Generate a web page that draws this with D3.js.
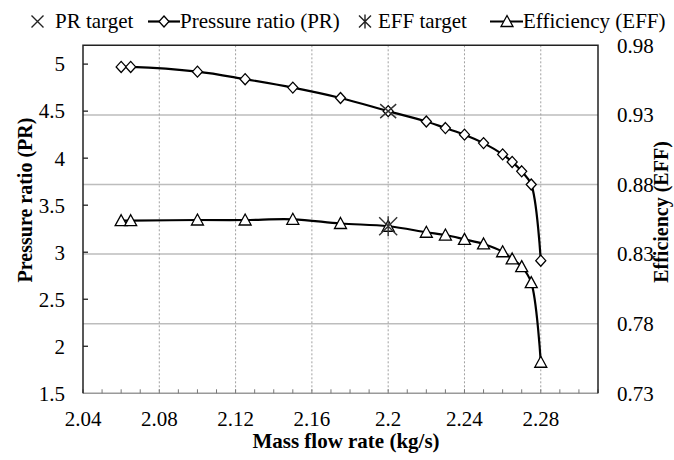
<!DOCTYPE html>
<html>
<head>
  <meta charset="UTF-8">
  <script src="https://d3js.org/d3.v7.min.js"></script>
</head>
<body style="margin:0">
  <svg width="674" height="460"></svg>

  <script>
    // mass flow rate (kg/s)
    const flow = [2.06, 2.065, 2.10, 2.125, 2.15, 2.175, 2.20, 2.22, 2.23, 2.24, 2.25, 2.26, 2.265, 2.27, 2.275, 2.28];
    const pressureRatio = [4.97, 4.97, 4.92, 4.84, 4.75, 4.64, 4.50, 4.39, 4.32, 4.25, 4.16, 4.04, 3.96, 3.86, 3.72, 2.91];
    const efficiency = [0.854, 0.854, 0.8545, 0.8545, 0.855, 0.852, 0.850, 0.8457, 0.8437, 0.8406, 0.8373, 0.8317, 0.8265, 0.821, 0.8095, 0.7523];

    const prTarget = [{ x: 2.2, y: 4.5 }];
    const effTarget = [{ x: 2.2, y: 0.85 }];

    const xTicks = [2.04, 2.08, 2.12, 2.16, 2.2, 2.24, 2.28];
    const prTicks = [1.5, 2, 2.5, 3, 3.5, 4, 4.5, 5];
    const effTicks = [0.73, 0.78, 0.83, 0.88, 0.93, 0.98];

    const svg = d3.select("svg");
    const plot = { left: 83, right: 598, top: 45.3, bottom: 393.3 };

    // Times-like text everywhere
    const label = (sel, size, bold) => sel
      .style("font-family", "'Liberation Serif'")
      .attr("font-size", size)
      .attr("font-weight", bold ? "bold" : null)
      .attr("fill", "#000");

    const x = d3.scaleLinear().domain([2.04, 2.31]).range([plot.left, plot.right]);
    const yPR = d3.scaleLinear().domain([1.5, 5.2]).range([plot.bottom, plot.top]);
    const yEFF = d3.scaleLinear().domain([0.73, 0.98]).range([plot.bottom, plot.top]);

    // horizontal grid (right axis)
    svg.append("g").selectAll("line")
      .data(effTicks.slice(1, -1))
      .join("line")
      .attr("x1", plot.left).attr("x2", plot.right)
      .attr("y1", d => yEFF(d)).attr("y2", d => yEFF(d))
      .attr("stroke", "#bdbdbd").attr("stroke-width", 1.5);

    // vertical dotted grid
    svg.append("g").selectAll("line")
      .data(xTicks.slice(1))
      .join("line")
      .attr("x1", d => x(d)).attr("x2", d => x(d))
      .attr("y1", plot.top).attr("y2", plot.bottom)
      .attr("stroke", "#a0a0a0").attr("stroke-width", 1)
      .attr("stroke-dasharray", "2,2");

    // bottom axis: gray line, minor ticks pointing up
    const minor = d3.range(0, 28).map(i => 2.04 + i * 0.01);
    svg.append("line")
      .attr("x1", plot.left).attr("x2", plot.right)
      .attr("y1", plot.bottom).attr("y2", plot.bottom)
      .attr("stroke", "#9a9a9a").attr("stroke-width", 1.5);
    svg.append("g").selectAll("line")
      .data(minor)
      .join("line")
      .attr("x1", d => x(d)).attr("x2", d => x(d))
      .attr("y1", plot.bottom).attr("y2", plot.bottom - 4)
      .attr("stroke", "#777").attr("stroke-width", 1);

    // frame: left, top, right
    svg.append("path")
      .attr("d", `M${plot.left},${plot.bottom}V${plot.top}H${plot.right}V${plot.bottom}`)
      .attr("fill", "none").attr("stroke", "#222").attr("stroke-width", 1.5);

    // left ticks pointing inward
    svg.append("g").selectAll("line")
      .data(prTicks.slice(1))
      .join("line")
      .attr("x1", plot.left).attr("x2", plot.left + 5)
      .attr("y1", d => yPR(d)).attr("y2", d => yPR(d))
      .attr("stroke", "#222").attr("stroke-width", 1.3);

    // tick labels
    svg.append("g").selectAll("text")
      .data(xTicks)
      .join("text")
      .call(label, 21)
      .attr("x", d => x(d)).attr("y", 426)
      .attr("text-anchor", "middle")
      .text(d => d3.format("")(d));

    svg.append("g").selectAll("text")
      .data(prTicks)
      .join("text")
      .call(label, 21)
      .attr("x", 65).attr("y", d => yPR(d))
      .attr("dy", "0.35em")
      .attr("text-anchor", "end")
      .text(d => d);

    svg.append("g").selectAll("text")
      .data(effTicks)
      .join("text")
      .call(label, 21)
      .attr("x", 617).attr("y", d => yEFF(d))
      .attr("dy", "0.35em")
      .text(d => d.toFixed(2));

    // axis titles
    svg.append("text").call(label, 21, true)
      .attr("x", 346).attr("y", 448)
      .attr("text-anchor", "middle")
      .text("Mass flow rate (kg/s)");

    svg.append("text").call(label, 20, true)
      .attr("transform", "translate(32,200) rotate(-90)")
      .attr("text-anchor", "middle")
      .text("Pressure ratio (PR)");

    svg.append("text").call(label, 20, true)
      .attr("transform", "translate(668,212) rotate(-90)")
      .attr("text-anchor", "middle")
      .text("Efficiency (EFF)");

    // series lines
    const prLine = d3.line()
      .x((d, i) => x(flow[i])).y(d => yPR(d))
      .curve(d3.curveCatmullRom.alpha(0.5));
    const effLine = d3.line()
      .x((d, i) => x(flow[i])).y(d => yEFF(d))
      .curve(d3.curveCatmullRom.alpha(0.5));

    svg.append("path").datum(pressureRatio)
      .attr("d", prLine)
      .attr("fill", "none").attr("stroke", "#000").attr("stroke-width", 2.2);
    svg.append("path").datum(efficiency)
      .attr("d", effLine)
      .attr("fill", "none").attr("stroke", "#000").attr("stroke-width", 2.2);

    const diamond = "M0,-5.5L5,0L0,5.5L-5,0Z";
    const triangle = "M0,-6L6,5L-6,5Z";
    const cross = "M-8,-7L8,7M-8,7L8,-7";
    const star = "M-9,-9L9,9M-9,9L9,-9M0,-10V10";

    svg.append("g").selectAll("path")
      .data(pressureRatio)
      .join("path")
      .attr("transform", (d, i) => `translate(${x(flow[i])},${yPR(d)})`)
      .attr("d", diamond)
      .attr("fill", "#fff").attr("stroke", "#000").attr("stroke-width", 1.3);

    svg.append("g").selectAll("path")
      .data(efficiency)
      .join("path")
      .attr("transform", (d, i) => `translate(${x(flow[i])},${yEFF(d)})`)
      .attr("d", triangle)
      .attr("fill", "#fff").attr("stroke", "#000").attr("stroke-width", 1.3);

    svg.append("g").selectAll("path")
      .data(prTarget)
      .join("path")
      .attr("transform", d => `translate(${x(d.x)},${yPR(d.y)})`)
      .attr("d", cross)
      .attr("fill", "none").attr("stroke", "#333").attr("stroke-width", 1.4);

    svg.append("g").selectAll("path")
      .data(effTarget)
      .join("path")
      .attr("transform", d => `translate(${x(d.x)},${yEFF(d.y)})`)
      .attr("d", star)
      .attr("fill", "none").attr("stroke", "#333").attr("stroke-width", 1.4);

    // legend
    const legend = svg.append("g");
    const ly = 21.5;

    legend.append("path")
      .attr("transform", `translate(37.5,${ly})`)
      .attr("d", "M-6,-6L6,6M-6,6L6,-6")
      .attr("fill", "none").attr("stroke", "#222").attr("stroke-width", 1.4);
    legend.append("text").call(label, 21).attr("x", 55).attr("y", 27.5).text("PR target");

    legend.append("line")
      .attr("x1", 148).attr("x2", 180).attr("y1", ly).attr("y2", ly)
      .attr("stroke", "#000").attr("stroke-width", 2.2);
    legend.append("path")
      .attr("transform", `translate(164,${ly})`)
      .attr("d", diamond)
      .attr("fill", "#fff").attr("stroke", "#000").attr("stroke-width", 1.3);
    legend.append("text").call(label, 21).attr("x", 180).attr("y", 27.5).text("Pressure ratio (PR)");

    legend.append("path")
      .attr("transform", `translate(365,${ly})`)
      .attr("d", "M-6,-6L6,6M-6,6L6,-6M0,-7V7")
      .attr("fill", "none").attr("stroke", "#222").attr("stroke-width", 1.4);
    legend.append("text").call(label, 21).attr("x", 378).attr("y", 27.5).text("EFF target");

    legend.append("line")
      .attr("x1", 490).attr("x2", 523).attr("y1", ly).attr("y2", ly)
      .attr("stroke", "#000").attr("stroke-width", 2.2);
    legend.append("path")
      .attr("transform", `translate(507,${ly})`)
      .attr("d", triangle)
      .attr("fill", "#fff").attr("stroke", "#000").attr("stroke-width", 1.3);
    legend.append("text").call(label, 21).attr("x", 523).attr("y", 27.5).text("Efficiency (EFF)");
  </script>
</body>
</html>
